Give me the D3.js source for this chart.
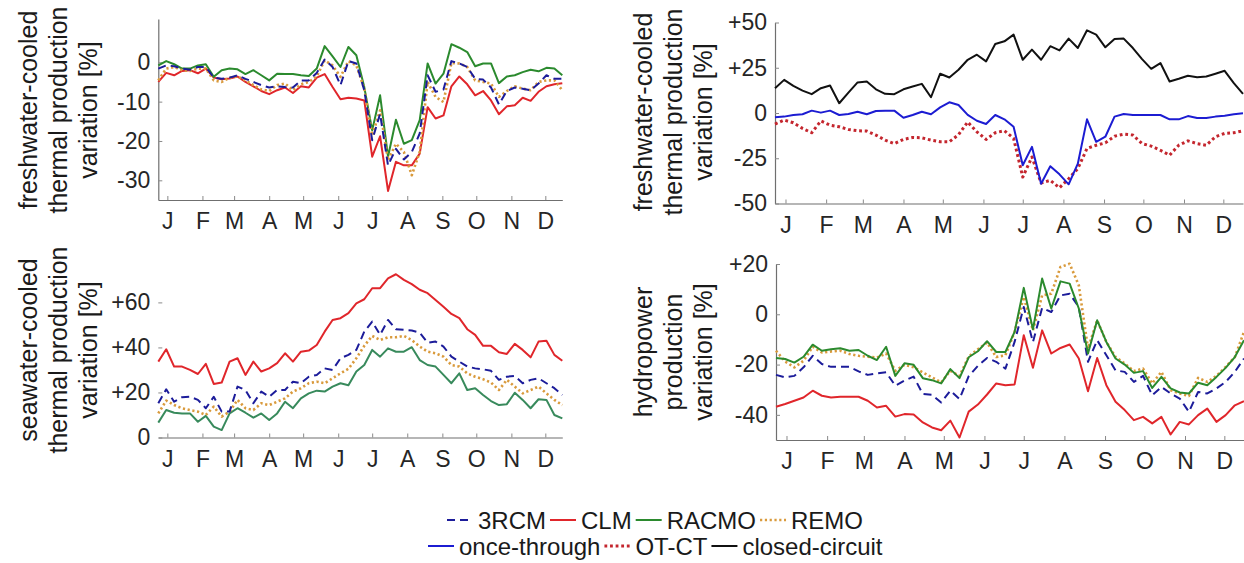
<!DOCTYPE html>
<html>
<head>
<meta charset="utf-8">
<script src="https://cdn.jsdelivr.net/npm/d3@7"></script>
<style>
  body { margin: 0; background: #fff; }
  svg { display: block; }
  svg text { font-family: "Liberation Sans", Arial, sans-serif; }
</style>
</head>
<body>
<svg id="chart" width="1244" height="563"></svg>
<script>
// weekly values, week 1..52 (day 7*i)
var months = ["J", "F", "M", "A", "M", "J", "J", "A", "S", "O", "N", "D"];
var monthDays = [15, 46, 74, 105, 135, 166, 196, 227, 258, 288, 319, 349];
var weeks = d3.range(1, 53);

// freshwater-cooled thermal, by climate model
var fw_3RCM = [-1.6, -0.8, -1.0, -1.6, -1.9, -1.2, -1.2, -3.9, -4.2, -3.9, -3.3, -4.2, -5.0, -5.8, -6.4, -6.1, -6.3, -6.4, -4.6, -4.6, -2.7, 0.7, -1.2, -5.8, 0.3,
  -0.3, -7.1, -19.8, -13.1, -26.2, -22.0, -24.7, -22.8, -18.1, -3.3, -7.5, -6.9, 0.3, -0.3, -1.2, -4.2, -4.4, -6.4, -10.7, -7.3, -6.4, -6.7, -7.1, -5.4, -3.3, -4.2, -4.2];
var fw_CLM = [-5.0, -2.7, -3.3, -2.2, -2.0, -2.8, -1.6, -3.9, -4.3, -4.1, -3.6, -5.0, -6.1, -7.3, -8.1, -7.1, -6.4, -7.8, -6.1, -6.4, -3.9, -3.0, -6.3, -9.4, -9.0,
  -9.2, -9.7, -24.0, -18.8, -32.7, -25.3, -26.2, -26.2, -23.2, -11.4, -14.3, -13.5, -6.1, -3.6, -5.6, -8.4, -7.3, -9.7, -13.2, -11.2, -10.9, -9.0, -9.8, -7.5, -6.1, -5.6, -5.3];
var fw_RACMO = [-0.8, 0.3, -0.5, -1.6, -1.6, -0.8, -0.5, -3.7, -2.0, -1.6, -1.8, -3.0, -2.0, -3.3, -4.6, -2.9, -3.0, -3.0, -3.3, -3.5, -1.6, 4.1, 1.5, -1.2, 3.9,
  1.8, -6.3, -17.3, -8.4, -24.0, -14.6, -20.7, -19.8, -14.7, -0.3, -5.4, -2.9, 4.6, 3.7, 2.6, -1.0, -0.3, -0.3, -5.3, -3.6, -3.3, -2.5, -1.9, -2.3, -1.4, -1.6, -3.3];
var fw_REMO = [-4.6, -1.6, -1.2, -2.0, -2.2, -1.6, -1.6, -4.6, -5.0, -3.9, -3.6, -4.6, -5.8, -6.9, -7.3, -5.8, -5.4, -7.1, -5.6, -5.0, -3.6, 0.5, -0.8, -3.7, 0.3,
  -0.8, -6.7, -18.6, -12.2, -24.9, -20.7, -22.8, -28.7, -22.8, -5.0, -8.8, -10.1, -0.2, -0.3, -1.2, -4.6, -5.0, -5.4, -8.8, -7.3, -6.1, -6.7, -7.1, -5.0, -4.6, -4.6, -7.1];

// freshwater-cooled thermal, by cooling type
var ct_once = [-2.4, -2.0, -1.1, -0.7, 1.3, 0.2, 1.3, -1.1, -0.6, 0.7, -0.7, 1.1, 1.3, 1.3, -2.6, -1.1, 0.7, -0.7, 3.1, 5.9, 4.4, -1.0,
  -4.3, -6.1, -1.1, -3.5, -7.6, -28.9, -18.7, -39.1, -29.4, -33.9, -39.4, -28.0, -3.5, -15.9, -13.1, -2.0, -0.6, -1.1, -1.1, -1.1, -1.1, -3.5, -3.5, -1.7, -2.8, -2.8, -2.0, -1.5, -0.7, -0.2];
var ct_otct = [-6.1, -3.9, -5.4, -8.5, -10.9, -4.4, -6.7, -7.6, -9.1, -9.8, -10.0, -12.2, -15.0, -16.9, -14.6, -13.5, -13.7, -15.0, -15.9, -15.9, -12.0, -5.0,
  -10.4, -14.6, -10.9, -9.8, -14.0, -35.4, -24.3, -38.7, -37.2, -41.3, -36.3, -30.7, -19.6, -17.8, -16.5, -12.8, -11.7, -12.2, -16.9, -18.3, -20.6, -23.3, -17.8, -15.4, -16.9, -17.8, -13.1, -11.3, -10.9, -9.8];
var ct_closed = [13.7, 18.3, 15.0, 12.4, 10.4, 13.7, 15.2, 5.4, 11.3, 16.9, 17.4, 13.1, 10.6, 10.4, 13.1, 14.6, 16.1, 8.7, 21.7, 19.6, 23.9, 29.4,
  32.2, 28.5, 38.1, 39.6, 43.3, 29.4, 35.0, 29.4, 36.9, 34.6, 41.1, 35.9, 45.7, 43.3, 36.3, 40.9, 41.1, 35.9, 29.8, 24.4, 27.6, 17.4, 18.9, 20.6, 19.8, 20.2, 21.7, 23.3, 16.5, 10.6];

// seawater-cooled thermal
var sw_3RCM = [15.2, 21.4, 15.9, 17.9, 18.1, 16.7, 13.0, 18.1, 11.5, 11.5, 22.6, 21.1, 15.2, 20.4, 18.1, 21.1, 21.1, 24.8, 24.1, 27.0, 27.8, 30.7, 30.0, 35.2, 36.7,
  38.9, 47.0, 51.5, 45.6, 52.2, 48.1, 47.8, 47.5, 46.6, 42.1, 42.6, 40.4, 35.9, 33.7, 31.5, 30.7, 30.3, 29.6, 25.6, 27.0, 27.3, 24.1, 25.6, 26.3, 24.1, 21.9, 18.9];
var sw_CLM = [33.7, 39.2, 31.5, 31.5, 30.0, 28.2, 32.7, 23.8, 24.4, 33.7, 35.2, 27.8, 33.7, 29.3, 30.7, 33.0, 37.4, 33.7, 38.1, 38.6, 41.1, 47.0, 52.2, 53.0, 55.2,
  59.6, 61.4, 66.3, 66.3, 70.7, 72.5, 70.0, 68.1, 65.6, 64.1, 61.1, 58.1, 54.9, 53.0, 48.1, 45.6, 40.7, 40.7, 37.9, 37.1, 41.6, 38.9, 35.6, 42.6, 43.0, 36.7, 34.1];
var sw_RACMO = [6.6, 12.2, 11.0, 10.7, 10.7, 7.0, 9.6, 4.8, 3.3, 10.7, 13.0, 11.0, 8.8, 10.7, 7.8, 10.7, 15.9, 13.0, 17.4, 19.6, 20.8, 20.4, 22.6, 24.1, 23.2,
  29.3, 32.2, 38.9, 35.9, 39.6, 38.1, 38.1, 40.1, 34.4, 32.2, 31.5, 27.8, 24.1, 28.5, 21.1, 21.9, 18.9, 16.2, 14.4, 14.8, 19.9, 16.7, 13.0, 17.0, 16.7, 10.0, 8.5];
var sw_REMO = [10.7, 16.4, 14.4, 13.0, 12.2, 11.5, 10.0, 13.7, 9.3, 11.5, 16.7, 13.0, 12.2, 15.2, 14.4, 15.9, 17.4, 20.4, 21.9, 24.1, 24.8, 24.1, 26.3, 28.5, 30.5,
  35.2, 40.7, 45.1, 43.3, 44.5, 44.5, 45.1, 43.3, 40.4, 38.1, 37.4, 35.9, 32.2, 31.5, 28.5, 27.0, 25.9, 24.4, 21.1, 25.6, 22.6, 19.6, 21.1, 22.6, 19.6, 16.7, 14.4];

// hydropower
var hy_3RCM = [-24.1, -25.1, -24.5, -21.1, -16.5, -19.8, -20.9, -20.9, -20.9, -22.7, -24.1, -23.5, -23.1, -28.4, -26.4, -24.8, -31.7, -32.0, -35.1, -30.4, -33.7, -24.6,
  -20.5, -17.4, -18.9, -21.6, -11.0, 2.9, -11.0, 2.5, 0.9, 7.5, 8.2, 2.9, -18.9, -10.3, -16.3, -22.3, -22.9, -26.9, -24.5, -32.2, -28.9, -31.5, -33.5, -38.8, -30.9, -31.5, -29.5, -26.9, -22.9, -17.6];
var hy_CLM = [-36.8, -35.7, -34.4, -33.1, -30.4, -32.4, -33.1, -32.8, -32.8, -32.8, -34.4, -37.1, -36.4, -40.7, -39.7, -39.9, -43.0, -45.0, -46.1, -42.3, -49.0, -38.7,
  -35.9, -31.9, -27.5, -28.2, -27.9, -8.3, -21.3, -6.4, -15.6, -13.4, -12.0, -17.6, -30.6, -17.4, -28.2, -34.8, -38.1, -42.1, -40.8, -43.4, -40.8, -47.8, -42.8, -43.8, -40.1, -37.5, -42.8, -40.1, -36.2, -34.6];
var hy_RACMO = [-17.4, -17.8, -19.2, -16.9, -12.1, -14.5, -13.9, -13.5, -14.5, -14.2, -16.5, -18.2, -12.9, -24.5, -19.5, -20.1, -25.4, -26.2, -27.5, -21.8, -25.4, -17.1,
  -14.7, -10.7, -15.0, -15.0, -7.0, 10.5, -6.0, 14.2, 2.3, 13.1, 12.2, 2.3, -15.6, -2.4, -11.0, -17.6, -20.0, -23.3, -22.6, -29.3, -24.9, -29.5, -31.1, -31.5, -27.2, -28.2, -24.9, -21.3, -17.0, -10.3];
var hy_REMO = [-14.5, -18.8, -21.1, -18.5, -12.9, -15.2, -14.8, -14.5, -15.8, -16.5, -16.9, -17.2, -15.6, -22.5, -20.1, -21.1, -23.1, -25.1, -27.1, -22.5, -24.5, -16.8,
  -13.9, -11.3, -17.0, -16.3, -7.0, 6.9, -6.4, 7.5, 8.2, 18.8, 20.1, 11.5, -13.6, -2.4, -11.0, -17.0, -19.6, -22.6, -21.6, -27.5, -22.9, -30.2, -31.5, -32.5, -25.3, -26.9, -24.5, -20.9, -17.0, -7.0];

// line styles
var styles = {
    "3RCM": {color: "#1c1c9a", width: 2, dash: "8,5"},
    "CLM": {color: "#e0262b", width: 2, dash: null},
    "RACMO": {color: "#2b8a2e", width: 2, dash: null},
    "REMO": {color: "#d99a3c", width: 2.6, dash: "2.2,2.6"},
    "once-through": {color: "#1c1cd2", width: 2, dash: null},
    "OT-CT": {color: "#c4262e", width: 3, dash: "2.8,2.8"},
    "closed-circuit": {color: "#111111", width: 2, dash: null}
};

var svg = d3.select("#chart");

function drawPanel(p) {
    var x = d3.scaleLinear().domain([7, 364]).range(p.xr);
    var y = d3.scaleLinear().domain(p.yd).range(p.yr);
    var g = svg.append("g");

    g.append("g")
        .attr("transform", "translate(0," + p.yr[0] + ")")
        .call(d3.axisBottom(x).tickValues(monthDays)
            .tickFormat(function(d, i) { return months[i]; })
            .tickSizeInner(-4).tickSizeOuter(0).tickPadding(13));

    var yAxis = g.append("g")
        .attr("transform", "translate(" + p.xr[0] + ",0)")
        .call(d3.axisLeft(y).tickValues(p.yticks)
            .tickFormat(function(d) { return d > 0 ? "+" + d : String(d); })
            .tickSizeInner(-4).tickSizeOuter(0).tickPadding(8));
    if (p.noYLine) yAxis.select(".domain").remove();

    g.selectAll(".tick text")
        .attr("font-family", "Liberation Sans, Arial, sans-serif")
        .attr("font-size", 23)
        .attr("fill", "#262626");
    g.selectAll(".domain").attr("stroke", "#6f6f6f").attr("stroke-width", 1.2);
    g.selectAll(".tick line").attr("stroke", "#8a8a8a");

    var line = d3.line()
        .x(function(d, i) { return x(weeks[i] * 7); })
        .y(function(d) { return y(d); });

    p.series.forEach(function(s) {
        var st = styles[s.name];
        g.append("path")
            .datum(s.values)
            .attr("fill", "none")
            .attr("stroke", s.color || st.color)
            .attr("stroke-width", st.width)
            .attr("stroke-dasharray", st.dash)
            .attr("stroke-linejoin", "round")
            .attr("d", line);
    });

    var t = g.append("text")
        .attr("transform", "translate(" + p.titleX + "," + p.titleY + ") rotate(-90)")
        .attr("text-anchor", "middle")
        .attr("font-size", 25)
        .attr("fill", "#1a1a1a");
    p.title.forEach(function(s, i) {
        t.append("tspan")
            .attr("x", 0)
            .attr("y", (i - p.title.length + 1) * 30)
            .text(s);
    });
}

drawPanel({
    xr: [158.3, 562.3], yd: [-35, 11], yr: [200, 19], yticks: [-30, -20, -10, 0],
    title: ["freshwater-cooled", "thermal production", "variation [%]"], titleX: 97, titleY: 110,
    series: [{name: "CLM", values: fw_CLM}, {name: "RACMO", values: fw_RACMO},
             {name: "REMO", values: fw_REMO}, {name: "3RCM", values: fw_3RCM}]
});
drawPanel({
    xr: [775, 1243], yd: [-50, 50], yr: [203.5, 22.5], yticks: [-50, -25, 0, 25, 50],
    title: ["freshwater-cooled", "thermal production", "variation [%]"], titleX: 712, titleY: 112,
    series: [{name: "closed-circuit", values: ct_closed}, {name: "OT-CT", values: ct_otct},
             {name: "once-through", values: ct_once}]
});
drawPanel({
    xr: [158.3, 562.3], yd: [0, 77.5], yr: [437.5, 263], yticks: [0, 20, 40, 60], noYLine: true,
    title: ["seawater-cooled", "thermal production", "variation [%]"], titleX: 97, titleY: 350,
    series: [{name: "CLM", values: sw_CLM}, {name: "RACMO", values: sw_RACMO, color: "#388a5c"},
             {name: "REMO", values: sw_REMO}, {name: "3RCM", values: sw_3RCM}]
});
drawPanel({
    xr: [776, 1244], yd: [-50, 20], yr: [440, 264], yticks: [-40, -20, 0, 20],
    title: ["hydropower", "production", "variation [%]"], titleX: 712, titleY: 352,
    series: [{name: "CLM", values: hy_CLM}, {name: "3RCM", values: hy_3RCM},
             {name: "REMO", values: hy_REMO}, {name: "RACMO", values: hy_RACMO}]
});

// legend
var legendRows = [
    {x: 447, y: 520, items: ["3RCM", "CLM", "RACMO", "REMO"]},
    {x: 428, y: 546, items: ["once-through", "OT-CT", "closed-circuit"]}
];
legendRows.forEach(function(row) {
    var cx = row.x;
    row.items.forEach(function(name) {
        var st = styles[name];
        svg.append("line")
            .attr("x1", cx).attr("x2", cx + 26)
            .attr("y1", row.y).attr("y2", row.y)
            .attr("stroke", st.color).attr("stroke-width", st.width)
            .attr("stroke-dasharray", st.dash);
        var txt = svg.append("text")
            .attr("x", cx + 31).attr("y", row.y)
            .attr("dy", "0.36em")
            .attr("font-size", 24)
            .attr("fill", "#1a1a1a")
            .text(name);
        cx += 31 + txt.node().getComputedTextLength() + 4;
    });
});
</script>
</body>
</html>
